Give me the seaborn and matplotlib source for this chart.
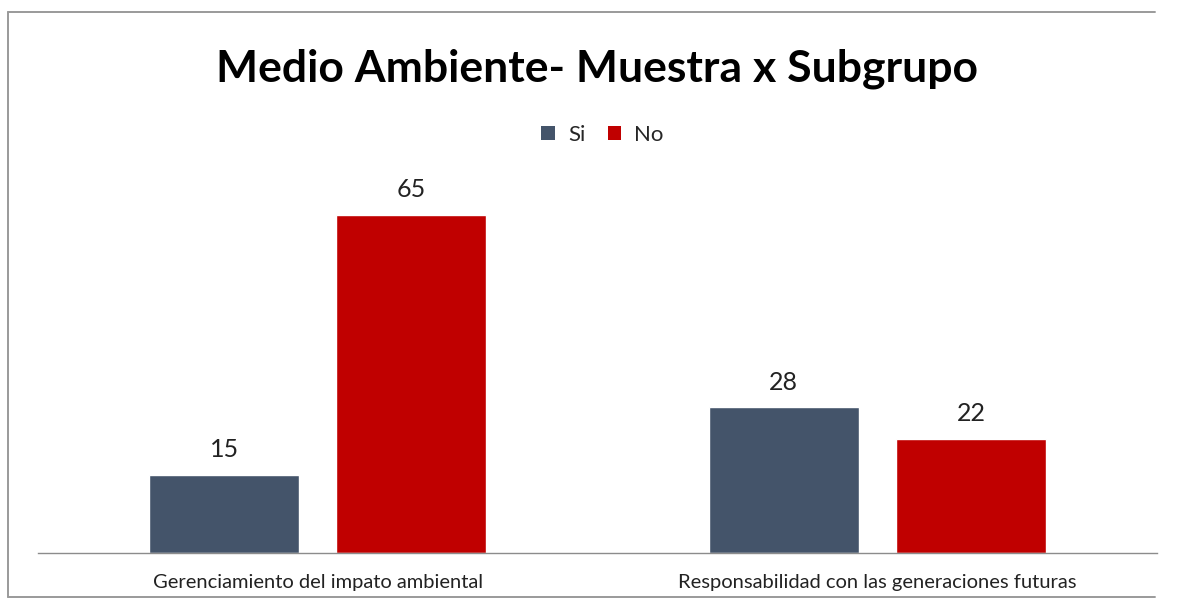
import matplotlib
matplotlib.use("Agg")
import matplotlib.pyplot as plt
from matplotlib.lines import Line2D
from matplotlib.patches import Patch
import seaborn as sns
import pandas as pd

# Survey results by subgroup
categories = ["Gerenciamiento del impato ambiental",
              "Responsabilidad con las generaciones futuras"]
answers = ["Si", "No"]
si_values = [15, 28]
no_values = [65, 22]

title = "Medio Ambiente- Muestra x Subgrupo"
colors = {"Si": "#44546A", "No": "#C00000"}

df = pd.DataFrame({
    "categoria": categories * 2,
    "respuesta": ["Si"] * len(categories) + ["No"] * len(categories),
    "valor": si_values + no_values,
})

sns.set_theme(style="white")
plt.rcParams["font.family"] = ["Lato", "DejaVu Sans"]

fig = plt.figure(figsize=(11.79, 6.02), dpi=100)
ax = fig.add_axes([38 / 1179, 49 / 602, 1119 / 1179, 364 / 602])

sns.barplot(data=df, x="categoria", y="valor", hue="respuesta",
            hue_order=answers, palette=colors, width=0.67, gap=0.2,
            ax=ax, legend=False, saturation=1)

for container in ax.containers:
    ax.bar_label(container, fmt="%d", padding=10, fontsize=18, color="#222222")

ax.set_ylim(0, 70)
ax.set_xlim(-0.5, 1.5)
ax.set_xlabel("")
ax.set_ylabel("")
ax.set_yticks([])
ax.tick_params(axis="x", length=0, pad=15, labelsize=14.5, colors="#222222")
for side in ["top", "right", "left"]:
    ax.spines[side].set_visible(False)
ax.spines["bottom"].set_color("#8c8c8c")
ax.spines["bottom"].set_linewidth(1.0)
ax.patch.set_alpha(0)

fig.text(597 / 1179, (602 - 69) / 602, title, ha="center", va="center",
         fontsize=32, fontweight="bold", color="black")

handles = [Patch(facecolor=colors[a], edgecolor="none", label=a) for a in answers]
fig.legend(handles=handles, loc="center", bbox_to_anchor=(0.511, (602 - 135) / 602),
           ncol=2, frameon=False, fontsize=16, handlelength=0.6, handleheight=0.6,
           handletextpad=0.6, columnspacing=1.0)

# Outer frame (open on the right)
frame = dict(color="#9a9a9a", linewidth=1.4, transform=fig.transFigure)
fig.add_artist(Line2D([8 / 1179, 1155 / 1179], [1 - 12 / 602, 1 - 12 / 602], **frame))
fig.add_artist(Line2D([8 / 1179, 8 / 1179], [1 - 12 / 602, 1 - 597 / 602], **frame))
fig.add_artist(Line2D([8 / 1179, 1155 / 1179], [1 - 597 / 602, 1 - 597 / 602], **frame))

fig.savefig("out.png", dpi=100, facecolor="white")
